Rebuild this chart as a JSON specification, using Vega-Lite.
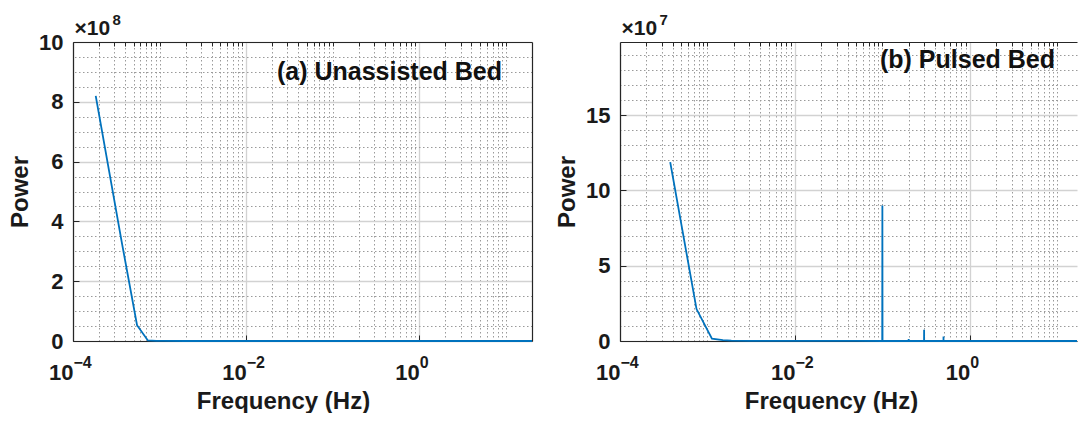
{
  "$schema": "https://vega.github.io/schema/vega-lite/v6.json",
  "padding": {"left": 8, "top": 12, "right": 0, "bottom": 0},
  "background": "white",
  "datasets": {
    "a": [
      {"f": 0.000183, "p": 820000000},
      {"f": 0.000366, "p": 330000000},
      {"f": 0.000549, "p": 53000000},
      {"f": 0.000732, "p": 2000000},
      {"f": 0.000915, "p": 500000},
      {"f": 0.0011, "p": 200000},
      {"f": 0.002, "p": 50000},
      {"f": 0.005, "p": 10000},
      {"f": 0.02, "p": 0},
      {"f": 0.1, "p": 0},
      {"f": 1, "p": 0},
      {"f": 20, "p": 0}
    ],
    "b": [
      {"f": 0.000375, "p": 118700000},
      {"f": 0.00075, "p": 21200000},
      {"f": 0.001125, "p": 1500000},
      {"f": 0.0015, "p": 600000},
      {"f": 0.001875, "p": 300000},
      {"f": 0.003, "p": 100000},
      {"f": 0.01, "p": 50000},
      {"f": 0.05, "p": 20000},
      {"f": 0.0996, "p": 10000},
      {"f": 0.1, "p": 90000000},
      {"f": 0.1004, "p": 10000},
      {"f": 0.199, "p": 0},
      {"f": 0.2, "p": 1200000},
      {"f": 0.201, "p": 0},
      {"f": 0.2996, "p": 0},
      {"f": 0.3, "p": 7500000},
      {"f": 0.3004, "p": 0},
      {"f": 0.4996, "p": 0},
      {"f": 0.5, "p": 3000000},
      {"f": 0.5004, "p": 0},
      {"f": 1, "p": 0},
      {"f": 16.8, "p": 0}
    ]
  },
  "hconcat": [
    {
      "width": 459,
      "height": 299,
      "data": {"name": "a"},
      "title": {"text": "(a) Unassisted Bed", "anchor": "end", "frame": "group", "fontSize": 25, "fontWeight": "bold", "color": "#111111", "offset": -73, "dx": -30},
      "layer": [
        {
          "mark": {"type": "line", "color": "#0072BD", "strokeWidth": 1.8},
          "encoding": {
            "x": {"field": "f", "type": "quantitative",
              "scale": {"type": "log", "domain": [0.0001, 20], "nice": false},
              "axis": {"orient": "bottom", "values": [0.0001, 0.01, 1],
                "labelExpr": "'10'", "labelAlign": "right", "labelDx": 4, "labelBaseline": "alphabetic",
                "grid": true, "gridColor": "#d2d2d2", "gridWidth": 1.3,
                "tickSize": -6, "labelPadding": 44, "title": "Frequency (Hz)", "titlePadding": 6, "titleX": 210}},
            "y": {"field": "p", "type": "quantitative",
              "scale": {"domain": [0, 1000000000], "nice": false},
              "axis": {"orient": "left", "values": [0, 200000000, 400000000, 600000000, 800000000, 1000000000],
                "labelExpr": "datum.value / 100000000",
                "grid": true, "gridColor": "#d2d2d2", "gridWidth": 1.3,
                "tickSize": -6, "labelPadding": 16, "title": "Power", "titlePadding": 6}}
          }
        },
        {
          "mark": {"type": "line", "opacity": 0},
          "encoding": {
            "x": {"field": "f", "type": "quantitative",
              "scale": {"type": "log", "domain": [0.0001, 20], "nice": false},
              "axis": {"orient": "top", "values": [0.0002, 0.0003, 0.0004, 0.0005, 0.0006, 0.0007, 0.0008, 0.0009, 0.001, 0.002, 0.003, 0.004, 0.005, 0.006, 0.007, 0.008, 0.009, 0.02, 0.03, 0.04, 0.05, 0.06, 0.07, 0.08, 0.09, 0.1, 0.2, 0.3, 0.4, 0.5, 0.6, 0.7, 0.8, 0.9, 2, 3, 4, 5, 6, 7, 8, 9, 10],
                "labels": false, "grid": true, "gridColor": "#9a9a9a", "gridDash": [1.5, 2.5], "gridWidth": 1,
                "tickSize": -4, "title": "×10", "titleFontSize": 21, "titleFontWeight": "bold",
                "titleAnchor": "start", "titleAlign": "left", "titleBaseline": "alphabetic", "titleX": 1, "titleY": -8}},
            "y": {"field": "p", "type": "quantitative",
              "scale": {"domain": [0, 1000000000], "nice": false},
              "axis": {"orient": "right", "values": [50000000, 100000000, 150000000, 250000000, 300000000, 350000000, 450000000, 500000000, 550000000, 650000000, 700000000, 750000000, 850000000, 900000000, 950000000],
                "labels": false, "ticks": false, "grid": true, "gridColor": "#9a9a9a", "gridDash": [1.5, 2.5], "gridWidth": 1, "title": null}}
          }
        },
        {
          "mark": {"type": "line", "opacity": 0},
          "encoding": {
            "x": {"field": "f", "type": "quantitative",
              "scale": {"type": "log", "domain": [0.0001, 20], "nice": false},
              "axis": {"orient": "bottom", "values": [0.0001, 0.01, 1],
                "labelExpr": "datum.value < 0.001 ? '−4' : datum.value < 0.1 ? '−2' : '0'",
                "labelFontSize": 16, "labelAlign": "left", "labelDx": 6, "labelBaseline": "alphabetic",
                "ticks": false, "tickSize": 0, "domain": false, "grid": false, "labelPadding": 26, "title": null}},
            "y": {"field": "p", "type": "quantitative",
              "scale": {"domain": [0, 1000000000], "nice": false},
              "axis": {"orient": "left", "labels": false, "ticks": false, "domain": false, "grid": false,
                "title": "8", "titleAngle": 0, "titleFontSize": 15, "titleFontWeight": "bold",
                "titleAlign": "left", "titleBaseline": "alphabetic", "titleX": 39, "titleY": -18}}
          }
        }
      ],
      "resolve": {"axis": {"x": "independent", "y": "independent"}}
    },
    {
      "width": 457,
      "height": 299,
      "data": {"name": "b"},
      "title": {"text": "(b) Pulsed Bed", "anchor": "end", "frame": "group", "fontSize": 25, "fontWeight": "bold", "color": "#111111", "offset": -61, "dx": -22},
      "layer": [
        {
          "mark": {"type": "line", "color": "#0072BD", "strokeWidth": 1.8},
          "encoding": {
            "x": {"field": "f", "type": "quantitative",
              "scale": {"type": "log", "domain": [0.0001, 16.8], "nice": false},
              "axis": {"orient": "bottom", "values": [0.0001, 0.01, 1],
                "labelExpr": "'10'", "labelAlign": "right", "labelDx": 4, "labelBaseline": "alphabetic",
                "grid": true, "gridColor": "#d2d2d2", "gridWidth": 1.3,
                "tickSize": -6, "labelPadding": 44, "title": "Frequency (Hz)", "titlePadding": 6, "titleX": 211}},
            "y": {"field": "p", "type": "quantitative",
              "scale": {"domain": [0, 198500000], "nice": false},
              "axis": {"orient": "left", "values": [0, 50000000, 100000000, 150000000],
                "labelExpr": "datum.value / 10000000",
                "grid": true, "gridColor": "#d2d2d2", "gridWidth": 1.3,
                "tickSize": -6, "labelPadding": 16, "title": "Power", "titlePadding": 6}}
          }
        },
        {
          "mark": {"type": "line", "opacity": 0},
          "encoding": {
            "x": {"field": "f", "type": "quantitative",
              "scale": {"type": "log", "domain": [0.0001, 16.8], "nice": false},
              "axis": {"orient": "top", "values": [0.0002, 0.0003, 0.0004, 0.0005, 0.0006, 0.0007, 0.0008, 0.0009, 0.001, 0.002, 0.003, 0.004, 0.005, 0.006, 0.007, 0.008, 0.009, 0.02, 0.03, 0.04, 0.05, 0.06, 0.07, 0.08, 0.09, 0.1, 0.2, 0.3, 0.4, 0.5, 0.6, 0.7, 0.8, 0.9, 2, 3, 4, 5, 6, 7, 8, 9, 10],
                "labels": false, "grid": true, "gridColor": "#9a9a9a", "gridDash": [1.5, 2.5], "gridWidth": 1,
                "tickSize": -4, "title": "×10", "titleFontSize": 21, "titleFontWeight": "bold",
                "titleAnchor": "start", "titleAlign": "left", "titleBaseline": "alphabetic", "titleX": 1, "titleY": -8}},
            "y": {"field": "p", "type": "quantitative",
              "scale": {"domain": [0, 198500000], "nice": false},
              "axis": {"orient": "right", "values": [10000000, 20000000, 30000000, 40000000, 60000000, 70000000, 80000000, 90000000, 110000000, 120000000, 130000000, 140000000, 160000000, 170000000, 180000000, 190000000],
                "labels": false, "ticks": false, "domain": false, "grid": true, "gridColor": "#9a9a9a", "gridDash": [1.5, 2.5], "gridWidth": 1, "title": null}}
          }
        },
        {
          "mark": {"type": "line", "opacity": 0},
          "encoding": {
            "x": {"field": "f", "type": "quantitative",
              "scale": {"type": "log", "domain": [0.0001, 16.8], "nice": false},
              "axis": {"orient": "bottom", "values": [0.0001, 0.01, 1],
                "labelExpr": "datum.value < 0.001 ? '−4' : datum.value < 0.1 ? '−2' : '0'",
                "labelFontSize": 16, "labelAlign": "left", "labelDx": 6, "labelBaseline": "alphabetic",
                "ticks": false, "tickSize": 0, "domain": false, "grid": false, "labelPadding": 26, "title": null}},
            "y": {"field": "p", "type": "quantitative",
              "scale": {"domain": [0, 198500000], "nice": false},
              "axis": {"orient": "left", "labels": false, "ticks": false, "domain": false, "grid": false,
                "title": "7", "titleAngle": 0, "titleFontSize": 15, "titleFontWeight": "bold",
                "titleAlign": "left", "titleBaseline": "alphabetic", "titleX": 39, "titleY": -18}}
          }
        }
      ],
      "resolve": {"axis": {"x": "independent", "y": "independent"}}
    }
  ],
  "spacing": 88,
  "bounds": "flush",
  "config": {
    "font": "Liberation Sans",
    "view": {"stroke": null},
    "axis": {
      "labelFont": "Liberation Sans", "labelFontWeight": "bold", "labelFontSize": 22, "labelColor": "#1a1a1a",
      "titleFont": "Liberation Sans", "titleFontSize": 24, "titleFontWeight": "bold", "titleColor": "#1a1a1a",
      "domainColor": "#262626", "domainWidth": 1.2, "tickColor": "#262626", "tickWidth": 1
    },
    "title": {"font": "Liberation Sans"}
  }
}
